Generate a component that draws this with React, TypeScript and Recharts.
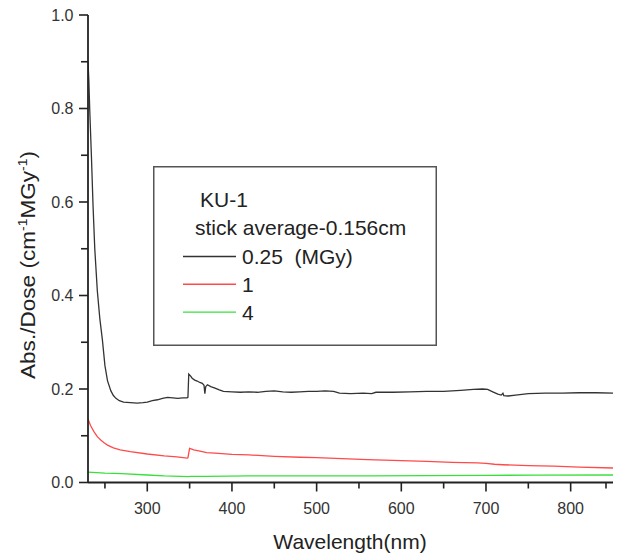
import { LineChart, Line, XAxis, YAxis, Legend } from 'recharts'

// wavelength (nm) / absorbance per dose (cm^-1 MGy^-1)
const wlBlack = [
  230, 231, 232, 234, 236, 238, 241, 244, 247, 250, 253, 257, 260, 263, 267, 272, 280, 288, 295, 300,
  306, 312, 318, 324, 330, 336, 342, 347, 348, 349, 351, 353, 356, 359, 362, 365, 367, 368, 369, 371,
  375, 380, 385, 390, 400, 410, 420, 430, 440, 450, 460, 470, 480, 490, 500, 510, 520, 527, 540, 555,
  565, 570, 590, 610, 630, 650, 670, 685, 696, 702, 708, 714, 718, 720, 721, 726, 735, 750, 770, 790,
  810, 830, 850,
]
const absBlack = [
  0.9, 0.86, 0.8, 0.7, 0.59, 0.5, 0.41, 0.35, 0.305, 0.25, 0.218, 0.196, 0.186, 0.18, 0.175, 0.172, 0.171, 0.17, 0.171, 0.172,
  0.175, 0.177, 0.18, 0.182, 0.181, 0.18, 0.181, 0.181, 0.182, 0.232, 0.228, 0.223, 0.219, 0.217, 0.214, 0.212, 0.208, 0.19, 0.205, 0.209,
  0.205, 0.202, 0.198, 0.195, 0.194, 0.193, 0.194, 0.193, 0.195, 0.196, 0.194, 0.193, 0.194, 0.195, 0.195, 0.196, 0.195, 0.191, 0.19, 0.191,
  0.19, 0.193, 0.193, 0.194, 0.195, 0.195, 0.197, 0.199, 0.2, 0.199, 0.194, 0.189, 0.187, 0.191, 0.186, 0.185, 0.187, 0.19, 0.191, 0.191,
  0.192, 0.192, 0.191,
]

const wlRed = [
  230, 233, 237, 241, 245, 249, 253, 260, 268, 280, 300, 320, 335, 347, 348, 350, 355, 365, 370, 380,
  400, 420, 450, 480, 500, 530, 560, 600, 630, 660, 690, 700, 710, 720, 750, 780, 810, 850,
]
const absRed = [
  0.136, 0.122, 0.109, 0.098, 0.091, 0.085, 0.08, 0.074, 0.07, 0.066, 0.061, 0.057, 0.055, 0.052, 0.053, 0.073, 0.07, 0.066, 0.064, 0.063,
  0.06, 0.059, 0.056, 0.054, 0.053, 0.051, 0.049, 0.047, 0.045, 0.043, 0.042, 0.041, 0.039, 0.038, 0.036, 0.035, 0.033, 0.031,
]

const wlGreen = [230, 250, 270, 300, 320, 349, 351, 370, 420, 500, 560, 630, 700, 760, 850]
const absGreen = [0.022, 0.02, 0.019, 0.016, 0.014, 0.0125, 0.013, 0.013, 0.014, 0.014, 0.0142, 0.0145, 0.0152, 0.0158, 0.016]

const doseLabels = ['0.25  (MGy)', '1', '4']
const seriesColors = ['#333333', '#ff4a4a', '#3ae03a']

const xTicks = [250, 300, 350, 400, 450, 500, 550, 600, 650, 700, 750, 800, 850]
const yTicks = [0, 0.1, 0.2, 0.3, 0.4, 0.5, 0.6, 0.7, 0.8, 0.9, 1.0]

const font = 'Arial, "Liberation Sans", sans-serif'
const axisColor = '#222'

const toPoints = (wl: number[], v: number[]) => wl.map((w, i) => ({ wl: w, v: v[i] }))
const series = [toPoints(wlBlack, absBlack), toPoints(wlRed, absRed), toPoints(wlGreen, absGreen)]

function XTick({ x, y, payload }: any) {
  const major = payload.value % 100 === 0
  const labelled = major && payload.value >= 300 && payload.value <= 800
  return (
    <g>
      <line x1={x} x2={x} y1={y} y2={y + (major ? 9 : 6)} stroke={axisColor} strokeWidth={1.6} />
      {labelled && (
        <text x={x} y={y + 31} textAnchor="middle" fontSize={16} fontFamily={font} fill="#333">
          {payload.value}
        </text>
      )}
    </g>
  )
}

function YTick({ x, y, payload }: any) {
  const major = Math.round(payload.value * 10) % 2 === 0
  return (
    <g>
      <line x1={x - (major ? 9 : 7)} x2={x} y1={y} y2={y} stroke={axisColor} strokeWidth={1.6} />
      {major && (
        <text x={x - 14.5} y={y + 5.8} textAnchor="end" fontSize={16} fontFamily={font} fill="#333">
          {payload.value.toFixed(1)}
        </text>
      )}
    </g>
  )
}

function YTitle() {
  return (
    <text
      x={35}
      y={265}
      transform="rotate(-90, 35, 265)"
      textAnchor="middle"
      fontSize={21}
      fontFamily={font}
      fill="#222"
      textLength={228}
      lengthAdjust="spacingAndGlyphs"
    >
      Abs./Dose (cm
      <tspan fontSize={13} dy={-8}>-1</tspan>
      <tspan dy={8}>MGy</tspan>
      <tspan fontSize={13} dy={-8}>-1</tspan>
      <tspan dy={8}>)</tspan>
    </text>
  )
}

function XTitle() {
  return (
    <text x={350} y={549} textAnchor="middle" fontSize={21} fontFamily={font} fill="#222">
      Wavelength(nm)
    </text>
  )
}

function LegendBox() {
  return (
    <svg width={284} height={180} style={{ display: 'block' }}>
      <rect x={0.75} y={0.75} width={282.5} height={178.5} fill="none" stroke="#555" strokeWidth={1.5} />
      <text x={47} y={41} fontSize={21} fontFamily={font} fill="#222">KU-1</text>
      <text x={42} y={69} fontSize={21} fontFamily={font} fill="#222">stick average-0.156cm</text>
      {doseLabels.map((name, i) => {
        const ly = 90.5 + 27.8 * i
        return (
          <g key={name}>
            <line x1={30} x2={83} y1={ly} y2={ly} stroke={seriesColors[i]} strokeWidth={1.4} />
            <text x={89} y={ly + 7.5} fontSize={21} fontFamily={font} fill="#222" style={{ whiteSpace: 'pre' }}>
              {name}
            </text>
          </g>
        )
      })}
    </svg>
  )
}

export default function App() {
  return (
    <div style={{ position: 'absolute', left: 0, top: 0 }}>
      <LineChart width={618} height={556} margin={{ top: 15, right: 5, left: 0, bottom: 13.5 }}>
        <XAxis
          type="number"
          dataKey="wl"
          domain={[230, 850]}
          ticks={xTicks}
          tick={<XTick />}
          tickLine={false}
          tickSize={0}
          tickMargin={0}
          height={60}
          axisLine={{ stroke: axisColor, strokeWidth: 1.8 }}
          label={{ content: <XTitle /> }}
          allowDataOverflow
        />
        <YAxis
          type="number"
          domain={[0, 1]}
          ticks={yTicks}
          tick={<YTick />}
          tickLine={false}
          tickSize={0}
          tickMargin={0}
          width={88}
          axisLine={{ stroke: axisColor, strokeWidth: 1.8 }}
          label={{ content: <YTitle /> }}
          allowDataOverflow
        />
        <Legend
          layout="vertical"
          align="center"
          verticalAlign="middle"
          wrapperStyle={{ left: 153, top: 166, width: 284, height: 180 }}
          content={() => <LegendBox />}
        />
        {series.map((pts, i) => (
          <Line
            key={doseLabels[i]}
            data={pts}
            dataKey="v"
            name={doseLabels[i]}
            type="linear"
            stroke={seriesColors[i]}
            strokeWidth={1.3}
            dot={false}
            isAnimationActive={false}
          />
        ))}
      </LineChart>
    </div>
  )
}
